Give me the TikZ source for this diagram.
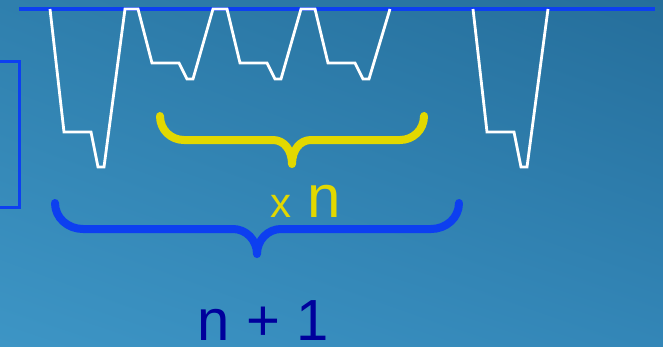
\documentclass[tikz,border=0pt]{standalone}
\usepackage{fontspec}
\setmainfont{Liberation Sans}
\usetikzlibrary{shadings}
\definecolor{bgUL}{HTML}{2F7FAD}
\definecolor{bgUR}{HTML}{256E9B}
\definecolor{bgLL}{HTML}{3D95C5}
\definecolor{bgLR}{HTML}{3386B7}
\definecolor{vivblue}{HTML}{0D3FF0}
\definecolor{braceyellow}{HTML}{E2D800}
\definecolor{darkblue}{HTML}{00009C}
\tikzset{
  blueline/.style={draw=vivblue, line width=4.5pt},
  bracketline/.style={draw=vivblue, line width=3pt},
  wave/.style={draw=white, line width=2.8pt, line join=miter},
  bracestroke/.style={line width=8pt, line cap=round, line join=round},
  lbl/.style={inner sep=0pt, anchor=base, text depth=0pt}
}
\begin{document}
\begin{tikzpicture}[x=1pt,y=-1pt]
\useasboundingbox (0,0) rectangle (663,346);
\shade[upper left=bgUL, upper right=bgUR, lower left=bgLL, lower right=bgLR] (0,0) rectangle (663,346);
% top blue line
\draw[blueline] (19,9) -- (655,9);
% left bracket
\draw[bracketline] (0,61) -- (19,61) -- (19,207) -- (0,207);
% white waveform
\draw[wave] (50,9) -- (64,132) -- (91,132) -- (98,167) -- (104,167) -- (125,9) -- (138,9)
  -- (152,63) -- (179,63) -- (187,79) -- (193,79) -- (213,9) -- (227,9)
  -- (240,63) -- (267,63) -- (275,79) -- (281,79) -- (301,9) -- (315,9)
  -- (328,63) -- (355,63) -- (363,79) -- (369,79) -- (390,9);
\draw[wave] (473,9) -- (487,132) -- (514,132) -- (521,167) -- (527,167) -- (548,9);
% yellow brace
\draw[bracestroke, draw=braceyellow] (160,116) .. controls (160,130) and (171,140) .. (184,140)
  -- (273,140) .. controls (284,140) and (292,150) .. (292,164)
  .. controls (292,150) and (300,140) .. (311,140)
  -- (400,140) .. controls (413,140) and (424,130) .. (424,116);
% blue brace
\draw[bracestroke, draw=vivblue] (55,203) .. controls (55,218) and (68,229) .. (83,229)
  -- (233,229) .. controls (246,229) and (257,240) .. (257,254)
  .. controls (257,240) and (268,229) .. (281,229)
  -- (431,229) .. controls (446,229) and (459,218) .. (459,203);
% labels
\node[lbl, text=braceyellow, font=\fontsize{42}{42}\selectfont] (xlbl) at (281,217) {x};
\node[lbl, text=braceyellow, font=\fontsize{60}{60}\selectfont] (nlbl) at (324,217) {n};
\node[lbl, text=darkblue, font=\fontsize{58}{58}\selectfont] (nplus) at (263,340) {n + 1};
\end{tikzpicture}
\end{document}
